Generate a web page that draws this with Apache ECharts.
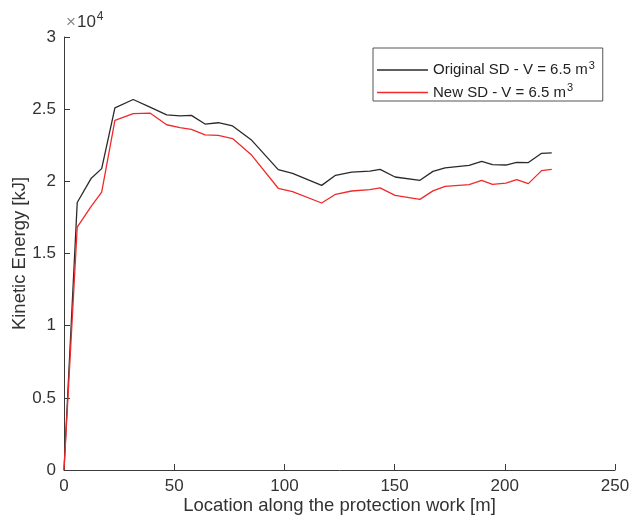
<!DOCTYPE html>
<html>
<head>
<meta charset="utf-8">
<script src="https://cdn.jsdelivr.net/npm/echarts@6/dist/echarts.min.js"></script>
<style>html,body{margin:0;padding:0;background:#fff}#c{width:632px;height:524px}</style>
</head>
<body>
<div id="c"></div>
<script>
// Location along the protection work [m]
var location_m = [0, 6.0, 12.25, 17.1, 23.1, 31.4, 39.0, 46.6, 52.6, 57.8, 64.0, 70.0, 76.5, 85.2, 97.2, 103.7, 116.9, 123.2, 130.5, 138.8, 143.4, 150.2, 161.5, 167.4, 172.9, 183.8, 189.5, 194.4, 200.5, 205.4, 210.7, 216.7, 221.3];
// Kinetic energy [kJ]
var originalSD = [0, 18530, 20190, 20880, 25090, 25670, 25140, 24600, 24530, 24570, 23970, 24060, 23840, 22840, 20810, 20550, 19720, 20420, 20640, 20710, 20830, 20300, 20070, 20690, 20930, 21110, 21380, 21160, 21130, 21310, 21300, 21940, 21970];
var newSD = [0, 16820, 18240, 19260, 24220, 24690, 24730, 23920, 23720, 23600, 23220, 23180, 22960, 21800, 19520, 19290, 18500, 19100, 19330, 19430, 19550, 19030, 18750, 19340, 19650, 19770, 20070, 19790, 19880, 20120, 19840, 20740, 20830];
var xTicks = [0, 50, 100, 150, 200, 250];
var yTicks = [0, 0.5, 1, 1.5, 2, 2.5, 3];
var seriesNames = ['Original SD - V = 6.5 m', 'New SD - V = 6.5 m'];

function pairs(xs, ys){ return xs.map(function(x,i){ return [x, ys[i]]; }); }

var axisColor = '#3a3a3a';
var font = 'Liberation Sans, Arial, Helvetica, sans-serif';
var chart = echarts.init(document.getElementById('c'), null, {renderer:'canvas'});
chart.setOption({
  animation: false,
  backgroundColor: '#fff',
  grid: {left: 64, right: 17, top: 37, bottom: 54, containLabel: false, outerBoundsMode: 'none'},
  xAxis: {
    type: 'value', min: xTicks[0], max: xTicks[xTicks.length-1], interval: 50,
    axisLine: {show: true, lineStyle: {color: axisColor, width: 1}},
    axisTick: {show: true, inside: true, length: 6, lineStyle: {color: axisColor}},
    splitLine: {show: false},
    axisLabel: {color: '#333', fontSize: 17, fontFamily: font, margin: 8},
    name: 'Location along the protection work [m]',
    nameLocation: 'middle', nameGap: 26, nameMoveOverlap: false,
    nameTextStyle: {color: '#333', fontSize: 18.5, fontFamily: font}
  },
  yAxis: {
    type: 'value', min: 0, max: 30000, interval: 5000,
    axisLine: {show: true, lineStyle: {color: axisColor, width: 1}},
    axisTick: {show: true, inside: true, length: 6, lineStyle: {color: axisColor}},
    splitLine: {show: false},
    axisLabel: {color: '#333', fontSize: 17, fontFamily: font, margin: 8,
      formatter: function(v){ return String(v/10000); }},
    name: 'Kinetic Energy [kJ]',
    nameLocation: 'middle', nameGap: 35, nameRotate: 90, nameMoveOverlap: false,
    nameTextStyle: {color: '#333', fontSize: 18.5, fontFamily: font}
  },
  legend: {
    orient: 'vertical', left: 373, top: 48,
    data: seriesNames.map(function(n){ return {name: n, icon: 'rect'}; }),
    itemWidth: 51, itemHeight: 1.5, itemGap: 5,
    padding: [12, 8, 1, 4],
    borderColor: '#555', borderWidth: 1,
    backgroundColor: '#fff',
    selectedMode: false,
    textStyle: {fontFamily: font, color: '#222', fontSize: 15,
      rich: {
        a: {fontFamily: font, color: '#222', fontSize: 15},
        s: {fontFamily: font, color: '#222', fontSize: 11, padding: [0, 0, 9, 1]}
      }},
    formatter: function(n){ return '{a|' + n + '}{s|3}'; }
  },
  graphic: [{
    type: 'text', left: 66, top: 11,
    style: {
      text: '{x|×}{t|10}{p|4}',
      rich: {
        x: {fontFamily: font, fontSize: 17, fill: '#888', padding: [0, 1, 0, 0]},
        t: {fontFamily: font, fontSize: 17, fill: '#333'},
        p: {fontFamily: font, fontSize: 12, fill: '#333', padding: [0, 0, 10, 1]}
      }
    }
  }],
  series: [
    {name: seriesNames[0], type: 'line', data: pairs(location_m, originalSD), symbol: 'none', showSymbol: false,
     lineStyle: {color: '#2a2a2a', width: 1.3}, itemStyle: {color: '#2a2a2a'}},
    {name: seriesNames[1], type: 'line', data: pairs(location_m, newSD), symbol: 'none', showSymbol: false,
     lineStyle: {color: '#f02a2a', width: 1.3}, itemStyle: {color: '#f02a2a'}}
  ]
});
</script>
</body>
</html>
